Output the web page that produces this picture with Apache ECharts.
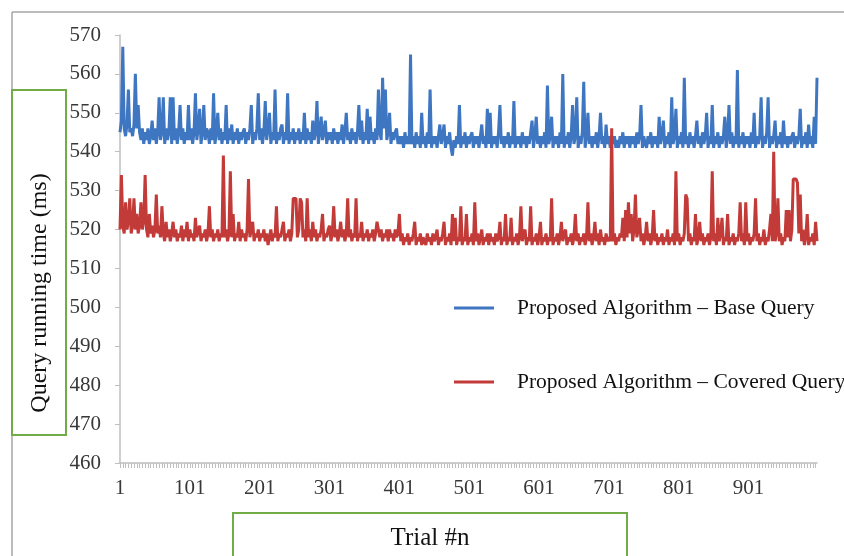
<!DOCTYPE html>
<html>
<head>
<meta charset="utf-8">
<script src="https://cdn.jsdelivr.net/npm/echarts@6/dist/echarts.min.js"></script>
<style>html,body{margin:0;padding:0;background:#fff;}#chart{width:844px;height:556px;}</style>
</head>
<body>
<div id="chart"></div>
<script>
// Every 2nd trial (1, 3, 5, ... 999)
const trialStep = 2;
const trialCount = 500;
const xTickLabels = ["1","101","201","301","401","501","601","701","801","901"];
const yTicks = [460,470,480,490,500,510,520,530,540,550,560,570];
const seriesNames = ["Proposed Algorithm \u2013 Base Query","Proposed Algorithm \u2013 Covered Query"];
const baseQuery = [
545,548,567,546,544,547,556,545,546,544,547,560,546,552,545,543,546,542,545,543,546,542,544,548,543,
546,542,545,554,543,545,554,542,546,543,545,554,542,554,543,546,542,545,552,543,546,542,545,543,552,
543,546,542,545,555,543,546,551,542,545,552,543,546,545,542,546,543,555,542,545,550,543,546,542,545,
543,552,542,546,543,547,542,545,543,546,542,545,543,545,546,542,545,543,546,552,542,545,543,546,555,
543,546,542,545,553,543,546,550,542,545,543,556,542,545,543,546,547,542,545,543,555,542,545,543,546,
542,545,543,546,542,545,543,550,542,546,543,545,542,548,543,545,553,542,545,549,543,545,548,542,545,
543,545,542,546,543,545,542,545,543,547,542,545,550,543,545,542,546,543,545,542,545,552,543,548,542,
545,543,551,542,549,543,545,542,546,543,556,545,543,559,546,556,543,545,550,542,545,543,545,546,542,
544,542,544,541,545,542,544,542,565,542,544,541,545,542,544,541,550,542,544,541,545,542,556,541,544,
542,544,541,544,547,542,544,547,541,544,542,545,541,539,543,541,544,542,552,541,544,542,545,541,544,
542,544,545,541,544,542,544,541,544,547,542,544,541,551,542,550,541,544,542,544,541,545,552,542,544,
541,544,542,545,541,544,542,553,541,544,542,544,541,545,542,544,541,544,542,545,548,541,544,549,542,
544,541,544,542,545,541,557,542,544,549,541,544,542,544,541,545,542,560,541,544,542,545,541,544,552,
542,544,554,541,544,542,545,558,541,544,550,542,544,541,544,542,545,541,544,550,542,544,541,547,542,
544,541,544,542,544,541,543,541,544,542,545,541,544,542,544,541,544,542,544,541,545,542,544,552,541,
544,542,541,544,542,545,541,544,542,544,541,549,542,544,548,541,544,542,545,541,554,542,544,551,541,
544,542,545,541,559,542,544,541,545,542,544,541,544,548,542,544,541,545,542,544,550,541,544,542,552,
541,544,542,545,541,544,542,544,549,541,544,552,542,545,541,544,542,561,541,544,542,545,541,544,542,
544,541,545,542,550,541,544,542,544,554,541,544,542,545,554,541,544,542,544,548,541,544,542,545,541,
548,542,544,541,544,542,544,545,541,544,542,544,551,541,544,542,545,541,547,542,544,541,549,542,559
];
const coveredQuery = [
520,534,521,519,527,520,522,528,519,521,528,520,524,519,521,527,520,522,534,520,518,524,519,521,518,
520,529,519,521,518,526,519,517,522,518,520,517,519,522,518,520,517,519,518,521,517,520,518,522,517,
520,518,519,517,523,518,520,521,517,519,518,520,517,519,526,518,520,517,519,518,520,517,519,518,539,
518,520,517,519,535,518,524,517,519,518,522,517,520,518,519,517,520,533,518,520,522,517,519,518,520,
517,519,518,520,517,519,516,518,520,517,519,518,526,517,519,518,520,522,517,519,518,520,517,519,528,
528,528,518,520,528,527,518,520,517,528,518,520,517,522,518,520,517,519,518,520,524,517,519,518,520,
521,517,519,526,518,520,517,519,522,518,520,517,519,528,518,520,517,519,518,528,517,519,518,522,517,
519,518,520,517,519,518,520,517,519,522,522,518,520,517,519,518,520,517,520,518,519,517,520,518,519,
524,517,519,516,518,517,519,516,518,517,519,522,516,518,517,519,516,518,517,516,519,517,518,516,519,
517,518,520,516,518,517,519,522,516,518,517,519,516,524,517,523,516,518,517,526,516,518,517,524,516,
518,517,519,516,527,517,519,516,518,520,516,518,517,519,516,519,517,518,516,519,517,518,522,516,518,
517,524,516,518,517,523,516,518,517,519,516,518,526,517,519,520,516,518,517,526,516,518,517,519,516,
518,522,516,518,517,519,516,518,517,528,516,518,517,519,516,518,522,517,519,520,516,518,517,519,516,
518,524,517,519,516,518,517,519,516,518,527,517,519,516,518,522,517,519,516,520,517,518,516,519,517,
518,517,546,517,519,516,518,517,519,518,523,517,525,518,527,519,524,517,520,529,518,520,523,517,519,
516,518,522,517,519,516,518,525,517,519,516,518,517,519,516,518,517,520,516,518,517,519,516,535,517,
519,516,518,517,519,529,528,517,519,516,518,517,524,516,518,522,517,519,516,518,517,519,516,518,535,
517,519,516,523,517,519,523,516,518,517,524,516,518,517,519,516,518,517,519,527,517,519,516,527,517,
519,516,518,517,519,528,517,519,516,518,517,520,516,518,517,520,524,517,540,517,519,528,517,519,516,
518,517,525,518,525,517,520,533,533,533,532,519,529,517,520,516,518,524,516,518,517,519,516,522,517
];

const categories = [];
for (let i = 0; i < trialCount; i++) categories.push(String(1 + i * trialStep));

const FONT = '"Liberation Serif", "Times New Roman", serif';
const chart = echarts.init(document.getElementById('chart'), null, {renderer: 'canvas'});
chart.setOption({
  animation: false,
  backgroundColor: '#ffffff',
  grid: {left: 120, right: 27, top: 35, bottom: 93, containLabel: false},
  xAxis: {
    type: 'category',
    data: categories,
    boundaryGap: false,
    axisLine: {show: true, lineStyle: {color: '#bfbfbf', width: 1.5}},
    axisTick: {show: true, interval: 1, length: 5, lineStyle: {color: '#bfbfbf', width: 1}},
    axisLabel: {
      interval: 49,
      margin: 15,
      color: '#383838',
      fontFamily: FONT,
      fontSize: 21,
      formatter: v => xTickLabels.indexOf(v) >= 0 ? v : ''
    },
    splitLine: {show: false}
  },
  yAxis: {
    type: 'value',
    min: yTicks[0],
    max: yTicks[yTicks.length - 1],
    interval: 10,
    axisLine: {show: true, lineStyle: {color: '#bfbfbf', width: 1.5}},
    axisTick: {show: true, length: 5, lineStyle: {color: '#bfbfbf'}},
    axisLabel: {margin: 19, color: '#383838', fontFamily: FONT, fontSize: 21},
    splitLine: {show: false}
  },
  legend: {
    orient: 'vertical',
    left: 449,
    top: 292,
    itemWidth: 40,
    itemHeight: 3,
    itemGap: 52,
    icon: 'rect',
    textStyle: {fontFamily: FONT, fontSize: 21.5, color: '#111111', padding: [0, 0, 0, 18]},
    data: seriesNames
  },
  series: [
    {name: seriesNames[0], type: 'line', data: baseQuery, showSymbol: false, symbol: 'none',
     lineStyle: {color: '#3f76c1', width: 3}, itemStyle: {color: '#3f76c1'}},
    {name: seriesNames[1], type: 'line', data: coveredQuery, showSymbol: false, symbol: 'none',
     lineStyle: {color: '#c23b38', width: 3}, itemStyle: {color: '#c23b38'}}
  ],
  graphic: [
    {type: 'line', shape: {x1: 12, y1: 12, x2: 844, y2: 12}, style: {stroke: '#a6a6a6', lineWidth: 1.5}, silent: true},
    {type: 'line', shape: {x1: 12, y1: 12, x2: 12, y2: 556}, style: {stroke: '#a6a6a6', lineWidth: 1.5}, silent: true},
    {type: 'rect', shape: {x: 12, y: 90, width: 54, height: 345}, style: {fill: '#ffffff', stroke: '#70ad47', lineWidth: 2}, silent: true},
    {type: 'text', x: 40, y: 293, rotation: Math.PI / 2,
     style: {text: 'Query running time (ms)', font: '24px ' + FONT, fill: '#111111', textAlign: 'center', textVerticalAlign: 'middle'}},
    {type: 'rect', shape: {x: 233, y: 513, width: 394, height: 60}, style: {fill: '#ffffff', stroke: '#70ad47', lineWidth: 2}, silent: true},
    {type: 'text', x: 430, y: 538,
     style: {text: 'Trial #n', font: '25px ' + FONT, fill: '#111111', textAlign: 'center', textVerticalAlign: 'middle'}}
  ]
});
</script>
</body>
</html>
